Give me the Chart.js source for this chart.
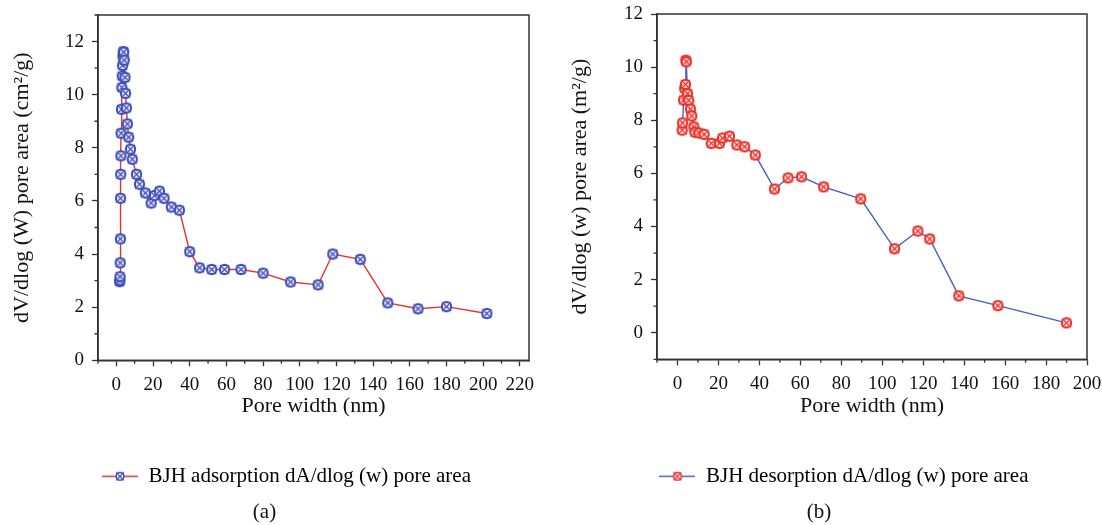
<!DOCTYPE html>
<html>
<head>
<meta charset="utf-8">
<script src="https://cdn.jsdelivr.net/npm/chart.js@4.4.0/dist/chart.umd.min.js"></script>
<style>
body { margin: 0; background: #fff; }
.panel { position: absolute; top: 0; width: 551px; height: 525px; }
#panelA { left: 0; }
#panelB { left: 551px; }
</style>
</head>
<body>
<div class="panel" id="panelA"><canvas id="chartA"></canvas></div>
<div class="panel" id="panelB"><canvas id="chartB"></canvas></div>
<script>
/* --- data (a) adsorption --- */
const adsWidth = [1.8, 1.9, 2.0, 2.1, 2.2, 2.3, 2.4, 2.5, 2.6, 2.8, 3.0, 3.2, 3.4, 3.6, 3.8,
    4.0, 4.3, 4.7, 5.0, 5.5, 6.0, 6.7, 7.7, 8.7, 11.0, 12.6, 15.8, 19.0, 20.8, 23.5,
    26.0, 30.0, 34.4, 40.0, 45.4, 52, 59, 68, 80, 95, 110, 118, 133, 148, 164.5, 180, 202];
const adsArea = [2.96, 3.02, 3.15, 3.67, 4.57, 6.1, 7.0, 7.7, 8.55, 9.45, 10.27, 10.7, 11.1, 11.45, 11.62,
    11.6, 11.3, 10.65, 10.05, 9.5, 8.9, 8.4, 7.95, 7.57, 7.0, 6.63, 6.3, 5.92, 6.2, 6.37,
    6.1, 5.77, 5.65, 4.09, 3.48, 3.42, 3.42, 3.42, 3.28, 2.95, 2.84, 4.0, 3.8, 2.16, 1.94, 2.02, 1.76];

/* --- data (b) desorption --- */
const desWidth = [2.3, 2.5, 3.0, 3.5, 3.9, 4.1, 4.3, 4.9, 5.5, 6.3, 7.0, 8.0, 8.5, 10.5, 13.0,
    16.5, 20.5, 22.0, 25.4, 29.0, 32.8, 38.0, 47.4, 54.0, 60.6, 71.4, 89.5, 106, 117.4, 123.2,
    137.4, 156.5, 190];
const desArea = [7.63, 7.9, 8.76, 9.2, 9.35, 10.26, 10.2, 9.0, 8.75, 8.42, 8.16, 7.75, 7.55, 7.52, 7.47,
    7.13, 7.13, 7.33, 7.4, 7.07, 7.0, 6.69, 5.41, 5.83, 5.87, 5.49, 5.04, 3.16, 3.83, 3.53,
    1.39, 1.02, 0.37];

/* --- ticks --- */
const xTicksA = [-10, 0, 10, 20, 30, 40, 50, 60, 70, 80, 90, 100, 110, 120, 130, 140, 150, 160, 170, 180, 190, 200, 210, 220];
const xLabelsA = [0, 20, 40, 60, 80, 100, 120, 140, 160, 180, 200, 220];
const yTicksA = [0, 1, 2, 3, 4, 5, 6, 7, 8, 9, 10, 11, 12, 13];
const yLabelsA = [0, 2, 4, 6, 8, 10, 12];

const xTicksB = [-10, 0, 10, 20, 30, 40, 50, 60, 70, 80, 90, 100, 110, 120, 130, 140, 150, 160, 170, 180, 190, 200];
const xLabelsB = [0, 20, 40, 60, 80, 100, 120, 140, 160, 180, 200];
const yTicksB = [-1, 0, 1, 2, 3, 4, 5, 6, 7, 8, 9, 10, 11, 12];
const yLabelsB = [0, 2, 4, 6, 8, 10, 12];

const FONT = "'Liberation Serif', 'DejaVu Serif', serif";
const AXIS = '#333';

function makeMarker(color) {
    const c = document.createElement('canvas');
    c.width = 13; c.height = 13;
    const g = c.getContext('2d');
    g.strokeStyle = color;
    g.lineWidth = 1.3;
    g.fillStyle = 'rgba(255,255,255,0.85)';
    g.beginPath(); g.arc(6.5, 6.5, 5, 0, Math.PI * 2); g.fill(); g.stroke();
    g.strokeRect(2.5, 2.5, 8, 8);
    g.beginPath();
    g.moveTo(2.5, 2.5); g.lineTo(10.5, 10.5);
    g.moveTo(10.5, 2.5); g.lineTo(2.5, 10.5);
    g.stroke();
    return c;
}

function makeLegendIcon(lineColor, markerColor) {
    const c = document.createElement('canvas');
    c.width = 36; c.height = 11;
    const g = c.getContext('2d');
    g.strokeStyle = lineColor; g.lineWidth = 1.4;
    g.beginPath(); g.moveTo(0, 5.5); g.lineTo(36, 5.5); g.stroke();
    g.strokeStyle = markerColor; g.lineWidth = 1.1;
    g.fillStyle = '#fff';
    g.beginPath(); g.arc(18, 5.5, 4, 0, Math.PI * 2); g.fill(); g.stroke();
    g.strokeRect(14.5, 2, 7, 7);
    g.beginPath();
    g.moveTo(14.5, 2); g.lineTo(21.5, 9);
    g.moveTo(21.5, 2); g.lineTo(14.5, 9);
    g.stroke();
    return c;
}

// box round the plot + short minor ticks, legend nudge
const framePlugin = {
    id: 'frame',
    afterLayout(chart) {
        const dx = chart.options.plugins.frame.legendShift;
        chart.legend.left += dx;
        chart.legend.right += dx;
    },
    afterDraw(chart) {
        const {ctx, chartArea: a, scales} = chart;
        const opt = chart.options.plugins.frame;
        ctx.save();
        ctx.strokeStyle = AXIS;
        ctx.lineWidth = 1.5;
        ctx.strokeRect(a.left, a.top, a.right - a.left, a.bottom - a.top);
        ctx.lineWidth = 1.3;
        ctx.beginPath();
        scales.x.ticks.forEach(t => {
            if (!opt.xLabels.includes(t.value)) {
                const px = scales.x.getPixelForValue(t.value);
                ctx.moveTo(px, a.bottom);
                ctx.lineTo(px, a.bottom + 3.5);
            }
        });
        scales.y.ticks.forEach(t => {
            if (!opt.yLabels.includes(t.value)) {
                const py = scales.y.getPixelForValue(t.value);
                ctx.moveTo(a.left, py);
                ctx.lineTo(a.left - 3.5, py);
            }
        });
        ctx.stroke();
        ctx.restore();
    }
};

function makeChart(id, p) {
    const points = p.xs.map((v, i) => ({x: v, y: p.ys[i]}));
    const marker = makeMarker(p.markerColor);
    const icon = makeLegendIcon(p.lineColor, p.markerColor);
    return new Chart(document.getElementById(id), {
        type: 'scatter',
        data: {
            datasets: [{
                label: p.label,
                data: points,
                showLine: true,
                borderColor: p.lineColor,
                borderWidth: 1.4,
                pointStyle: marker,
                pointRadius: 6,
                pointHoverRadius: 6,
            }]
        },
        options: {
            responsive: true,
            maintainAspectRatio: false,
            animation: false,
            layout: {padding: {top: p.top, right: p.right, left: 0, bottom: 0}},
            plugins: {
                tooltip: {enabled: false},
                frame: {xLabels: p.xLabels, yLabels: p.yLabels, legendShift: p.legendShift},
                legend: {
                    position: 'bottom',
                    labels: {
                        usePointStyle: true,
                        pointStyleWidth: 36,
                        padding: 3.3,
                        color: '#111',
                        font: {family: FONT, size: 21},
                        generateLabels: () => [{text: p.label, pointStyle: icon, lineWidth: 0, datasetIndex: 0}]
                    }
                },
                title: {
                    display: true,
                    position: 'bottom',
                    text: p.caption,
                    color: '#111',
                    font: {family: FONT, size: 21, weight: 'normal'},
                    padding: {top: 3, bottom: 0}
                }
            },
            scales: {
                x: {
                    type: 'linear',
                    min: p.xTicks[0],
                    max: p.xMax,
                    afterBuildTicks: s => { s.ticks = p.xTicks.map(v => ({value: v})); },
                    afterFit: s => { s.height = p.xHeight; s.paddingLeft = 0; s.paddingRight = 0; },
                    grid: {
                        drawOnChartArea: false,
                        tickLength: 6,
                        tickWidth: 1.3,
                        tickColor: c => p.xLabels.includes(c.tick.value) ? AXIS : 'rgba(0,0,0,0)'
                    },
                    border: {color: AXIS, width: 1.5},
                    ticks: {
                        autoSkip: false,
                        maxRotation: 0,
                        padding: 7,
                        color: '#111',
                        font: {family: FONT, size: 19},
                        callback: v => p.xLabels.includes(v) ? String(v) : ''
                    },
                    title: {
                        display: true,
                        text: 'Pore width (nm)',
                        color: '#111',
                        font: {family: FONT, size: 22},
                        padding: 43.4
                    }
                },
                y: {
                    type: 'linear',
                    min: p.yTicks[0],
                    max: p.yMax,
                    afterBuildTicks: s => { s.ticks = p.yTicks.map(v => ({value: v})); },
                    afterFit: s => { s.width = p.yWidth; s.paddingTop = 0; s.paddingBottom = 0; },
                    grid: {
                        drawOnChartArea: false,
                        tickLength: 6,
                        tickWidth: 1.3,
                        tickColor: c => p.yLabels.includes(c.tick.value) ? AXIS : 'rgba(0,0,0,0)'
                    },
                    border: {color: AXIS, width: 1.5},
                    ticks: {
                        autoSkip: false,
                        padding: 8,
                        color: '#111',
                        font: {family: FONT, size: 19},
                        callback: v => p.yLabels.includes(v) ? String(v) : ''
                    },
                    title: {
                        display: true,
                        text: p.yTitle,
                        color: '#111',
                        font: {family: FONT, size: 22},
                        padding: p.yTitlePad
                    }
                }
            }
        },
        plugins: [framePlugin]
    });
}

const chartA = makeChart('chartA', {
    xs: adsWidth, ys: adsArea,
    xTicks: xTicksA, xLabels: xLabelsA, xMax: 225,
    yTicks: yTicksA, yLabels: yLabelsA, yMax: 13,
    lineColor: '#e8322a', markerColor: '#3f4fb8',
    label: 'BJH adsorption dA/dlog (w) pore area',
    caption: '(a)',
    yTitle: 'dV/dlog (W) pore area (cm\u00b2/g)',
    top: 15, right: 22, yWidth: 98, xHeight: 102.2, yTitlePad: 9, legendShift: 22
});

const chartB = makeChart('chartB', {
    xs: desWidth, ys: desArea,
    xTicks: xTicksB, xLabels: xLabelsB, xMax: 200,
    yTicks: yTicksB, yLabels: yLabelsB, yMax: 12,
    lineColor: '#4560c2', markerColor: '#e8322a',
    label: 'BJH desorption dA/dlog (w) pore area',
    caption: '(b)',
    yTitle: 'dV/dlog (w) pore area (m\u00b2/g)',
    top: 14, right: 15, yWidth: 106, xHeight: 103.2, yTitlePad: 16, legendShift: 25
});
</script>
</body>
</html>
